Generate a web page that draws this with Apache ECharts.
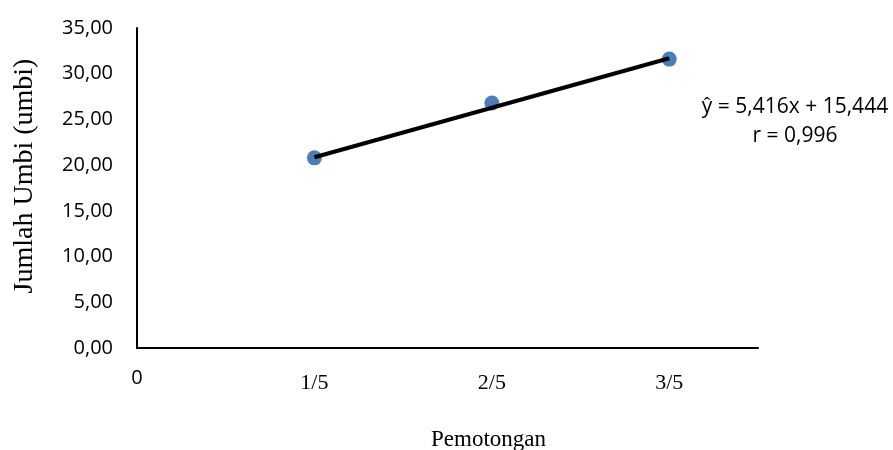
<!DOCTYPE html>
<html>
<head>
<meta charset="utf-8">
<script src="https://cdn.jsdelivr.net/npm/echarts@6/dist/echarts.min.js"></script>
<style>
  html, body { margin: 0; padding: 0; background: #fff; }
  #chart { width: 893px; height: 450px; }
</style>
</head>
<body>
<div id="chart"></div>
<script>
// data
const pointX = [1, 2, 3];
const pointY = [20.8, 26.8, 31.6];
const trendX = [1, 3];
const trendY = [20.86, 31.69];
const xTickValues = [0, 1, 2, 3];
const xTickLabels = ['0', '1/5', '2/5', '3/5'];
const equationLines = ['ŷ = 5,416x + 15,444', 'r = 0,996'];

const chart = echarts.init(document.getElementById('chart'));

const fmtY = (v) => v.toFixed(2).replace('.', ',');

chart.setOption({
  animation: false,
  grid: { left: 137, right: 135, top: 28, bottom: 102, outerBoundsMode: 'none', containLabel: false },
  xAxis: {
    type: 'value',
    min: 0,
    max: 3.5,
    interval: 1,
    name: 'Pemotongan',
    nameLocation: 'middle',
    nameGap: 80,
    nameTextStyle: { fontFamily: 'Liberation Serif', fontSize: 23, color: '#000', padding: [0, 0, 0, 82] },
    axisLine: { lineStyle: { color: '#000', width: 2 } },
    axisTick: { show: false },
    splitLine: { show: false },
    axisLabel: {
      margin: 20,
      formatter: (v) => {
        const i = xTickValues.indexOf(v);
        if (i < 0) return '';
        return i === 0 ? '{a|' + xTickLabels[i] + '}' : '{b|' + xTickLabels[i] + '}';
      },
      rich: {
        a: { fontFamily: 'Open Sans', fontSize: 20, lineHeight: 20, color: '#000' },
        b: { fontFamily: 'Liberation Serif', fontSize: 22, lineHeight: 22, color: '#000', padding: [8, 0, 0, 0] }
      }
    }
  },
  yAxis: {
    type: 'value',
    min: 0,
    max: 35,
    interval: 5,
    name: 'Jumlah Umbi (umbi)',
    nameLocation: 'middle',
    nameGap: 98,
    nameTextStyle: { fontFamily: 'Liberation Serif', fontSize: 28, color: '#000', padding: [0, 0, 0, 24] },
    axisLine: { show: true, lineStyle: { color: '#000', width: 2 } },
    axisTick: { show: false },
    splitLine: { show: false },
    axisLabel: { margin: 24, formatter: fmtY, fontFamily: 'Open Sans', fontSize: 20, color: '#000' }
  },
  series: [
    {
      type: 'scatter',
      z: 2,
      symbolSize: 15,
      itemStyle: { color: '#4A7EBB', opacity: 1 },
      data: pointX.map((x, i) => [x, pointY[i]])
    },
    {
      type: 'line',
      z: 3,
      symbol: 'none',
      lineStyle: { color: '#000', width: 4 },
      data: trendX.map((x, i) => [x, trendY[i]])
    }
  ],
  graphic: [{
    type: 'text',
    x: 795,
    y: 93,
    style: {
      text: equationLines.join('\n'),
      textAlign: 'center',
      textVerticalAlign: 'top',
      fontFamily: 'Open Sans',
      fontSize: 21,
      lineHeight: 29,
      fill: '#000'
    }
  }]
});
</script>
</body>
</html>
